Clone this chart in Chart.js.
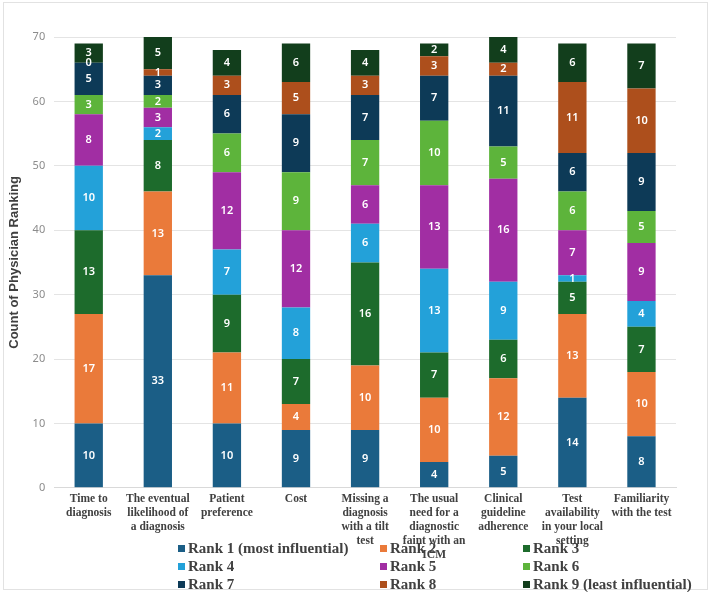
<!DOCTYPE html>
<html>
<head>
<meta charset="utf-8">
<script src="https://cdn.jsdelivr.net/npm/chart.js@4"></script>
<style>
	body { margin: 0; background: #fff; }
	.wrap { position: relative; width: 709px; height: 592px; }
	.frame { position: absolute; left: 3px; top: 2px; width: 703px; height: 586px; border: 1px solid #e2e2e2; }
	.legend {
		position: absolute; left: 178px; top: 540px;
		display: grid; grid-template-columns: 202px 143px 200px; row-gap: 2px;
		font-family: "Liberation Serif", serif; font-weight: bold; font-size: 15px; color: #404040;
	}
	.legend div { height: 16px; line-height: 16px; white-space: nowrap; }
	.legend span { display: inline-block; width: 7px; height: 7px; margin-right: 3px; vertical-align: 1px; }
	canvas { position: absolute; left: 0; top: 0; }
</style>
</head>
<body>
<div class="wrap">
	<div class="frame"></div>
	<canvas id="chart-1" width="709" height="592"></canvas>
	<div class="legend"></div>
</div>
<script>
const categories = [
	["Time to", "diagnosis"],
	["The eventual", "likelihood of", "a diagnosis"],
	["Patient", "preference"],
	["Cost"],
	["Missing a", "diagnosis", "with a tilt", "test"],
	["The usual", "need for a", "diagnostic", "faint with an", "ICM"],
	["Clinical", "guideline", "adherence"],
	["Test", "availability", "in your local", "setting"],
	["Familiarity", "with the test"]
];
const rankNames = [
	"Rank 1 (most influential)", "Rank 2", "Rank 3",
	"Rank 4", "Rank 5", "Rank 6",
	"Rank 7", "Rank 8", "Rank 9 (least influential)"
];
const rankColors = ["#1b5e86", "#ea7a3a", "#1d6b2c", "#23a1d9", "#a12ea3", "#5db43b", "#0d3a57", "#ad4f1c", "#123e1c"];

const rank1 = [10, 33, 10, 9, 9, 4, 5, 14, 8];
const rank2 = [17, 13, 11, 4, 10, 10, 12, 13, 10];
const rank3 = [13, 8, 9, 7, 16, 7, 6, 5, 7];
const rank4 = [10, 2, 7, 8, 6, 13, 9, 1, 4];
const rank5 = [8, 3, 12, 12, 6, 13, 16, 7, 9];
const rank6 = [3, 2, 6, 9, 7, 10, 5, 6, 5];
const rank7 = [5, 3, 6, 9, 7, 7, 11, 6, 9];
const rank8 = [0, 1, 3, 5, 3, 3, 2, 11, 10];
const rank9 = [3, 5, 4, 6, 4, 2, 4, 6, 7];
const rankValues = [rank1, rank2, rank3, rank4, rank5, rank6, rank7, rank8, rank9];

const yTicks = [0, 10, 20, 30, 40, 50, 60, 70];

const datasets = rankNames.map((name, i) => ({
	label: name,
	data: rankValues[i],
	backgroundColor: rankColors[i],
	barPercentage: 0.41,
	categoryPercentage: 1.0
}));

// white number in the middle of every segment
const segmentLabels = {
	id: "segmentLabels",
	afterDatasetsDraw(chart) {
		const ctx = chart.ctx;
		ctx.save();
		ctx.font = "600 11px 'Noto Sans', sans-serif";
		ctx.fillStyle = "#ffffff";
		ctx.textAlign = "center";
		ctx.textBaseline = "middle";
		chart.data.datasets.forEach((ds, i) => {
			chart.getDatasetMeta(i).data.forEach((bar, j) => {
				ctx.fillText(ds.data[j], bar.x, (bar.y + bar.base) / 2);
			});
		});
		ctx.restore();
	}
};

const mainChart = new Chart("chart-1", {
	type: "bar",
	data: { labels: categories, datasets: datasets },
	plugins: [segmentLabels],
	options: {
		responsive: false,
		animation: false,
		layout: { padding: { top: 37, right: 33, bottom: 34, left: 6 } },
		plugins: { legend: { display: false }, tooltip: { enabled: false } },
		scales: {
			x: {
				stacked: true,
				grid: { display: false },
				border: { color: "#d9d9d9" },
				ticks: {
					maxRotation: 0, autoSkip: false, padding: -4,
					color: "#404040",
					font: { family: "'Liberation Serif', serif", size: 11.5, weight: "bold", lineHeight: 1.22 }
				}
			},
			y: {
				stacked: true,
				min: 0, max: 70,
				afterBuildTicks: axis => { axis.ticks = yTicks.map(v => ({ value: v })); },
				grid: { color: "#e4e4e4", drawTicks: false },
				border: { display: false },
				ticks: { color: "#8c8c8c", padding: 9, font: { family: "'Noto Sans', sans-serif", size: 11 } },
				title: {
					display: true, text: "Count of Physician Ranking", color: "#404040", padding: 1,
					font: { family: "'Liberation Sans', sans-serif", size: 13, weight: "bold" }
				}
			}
		}
	}
});

const legend = document.querySelector(".legend");
mainChart.data.datasets.forEach(ds => {
	const item = document.createElement("div");
	item.innerHTML = `<span style="background:${ds.backgroundColor}"></span>${ds.label}`;
	legend.appendChild(item);
});
</script>
</body>
</html>
